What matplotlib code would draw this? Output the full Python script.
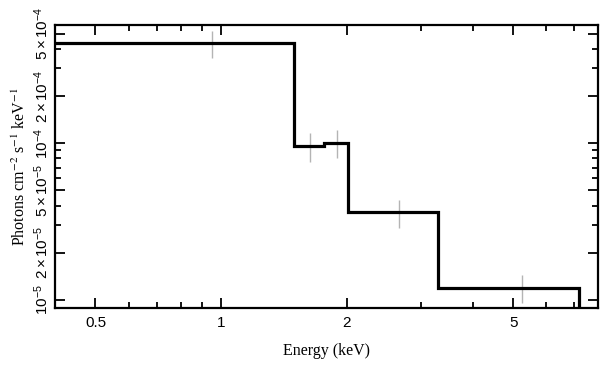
"""Unfolded X-ray spectrum: model step function with data error bars."""

import matplotlib

matplotlib.use("Agg")
import matplotlib.pyplot as plt
from matplotlib.ticker import FixedLocator, FixedFormatter, NullFormatter

# model bins (keV) and flux levels (photons cm^-2 s^-1 keV^-1)
bin_edges = [0.3, 1.49, 1.765, 2.01, 3.30, 7.2]
model_flux = [4.33e-4, 9.6e-5, 1.01e-4, 3.63e-5, 1.19e-5]

# data points: energy and lower/upper flux limits
data_energy = [0.948, 1.63, 1.89, 2.66, 5.25]
data_low = [3.48e-4, 7.63e-5, 8.03e-5, 2.90e-5, 9.57e-6]
data_high = [5.19e-4, 1.158e-4, 1.215e-4, 4.35e-5, 1.435e-5]

x_ticks = [0.5, 1, 2, 5]
x_ticklabels = ["0.5", "1", "2", "5"]
x_minor = [0.6, 0.7, 0.8, 0.9, 3, 4, 6, 7]
y_ticks = [1e-5, 2e-5, 5e-5, 1e-4, 2e-4, 5e-4]
y_ticklabels = [r"$10^{-5}$", r"$2\times10^{-5}$", r"$5\times10^{-5}$",
                r"$10^{-4}$", r"$2\times10^{-4}$", r"$5\times10^{-4}$"]
y_minor = [3e-5, 4e-5, 6e-5, 7e-5, 8e-5, 9e-5, 3e-4, 4e-4]

plt.rcParams["mathtext.fontset"] = "custom"
plt.rcParams["mathtext.rm"] = "Liberation Sans"
plt.rcParams["mathtext.it"] = "Liberation Sans:italic"
plt.rcParams["mathtext.bf"] = "Liberation Sans:bold"

fig = plt.figure(figsize=(6.09, 3.71), dpi=100)
ax = fig.add_axes([0.0903, 0.1698, 0.8917, 0.7628])
ax.set_xscale("log")
ax.set_yscale("log")

ax.vlines(data_energy, data_low, data_high, color="#b4b4b4", linewidth=1.0, zorder=2)
ax.stairs(model_flux, bin_edges, baseline=1e-6, color="black", linewidth=2.3, zorder=3)

ax.set_xlim(0.4, 7.98)
ax.set_ylim(8.9e-6, 5.67e-4)

ax.xaxis.set_major_locator(FixedLocator(x_ticks))
ax.xaxis.set_major_formatter(FixedFormatter(x_ticklabels))
ax.xaxis.set_minor_locator(FixedLocator(x_minor))
ax.xaxis.set_minor_formatter(NullFormatter())
ax.yaxis.set_major_locator(FixedLocator(y_ticks))
ax.yaxis.set_major_formatter(FixedFormatter(y_ticklabels))
ax.yaxis.set_minor_locator(FixedLocator(y_minor))
ax.yaxis.set_minor_formatter(NullFormatter())

ax.tick_params(which="both", direction="in", top=True, right=True, width=1.3)
ax.tick_params(which="major", length=7, labelsize=11)
ax.tick_params(axis="x", which="major", pad=6)
ax.tick_params(axis="y", which="major", pad=3)
ax.tick_params(which="minor", length=4)
for lbl in ax.get_xticklabels() + ax.get_yticklabels():
    lbl.set_family("Liberation Sans")
for lbl in ax.get_yticklabels():
    lbl.set_rotation(90)
    lbl.set_verticalalignment("center")

for spine in ax.spines.values():
    spine.set_linewidth(1.6)

ax.set_xlabel("Energy (keV)", family="Liberation Serif", fontsize=11.5, va="center")
ax.set_ylabel(r"Photons cm$^{-2}$ s$^{-1}$ keV$^{-1}$", family="Liberation Serif",
              fontsize=11.5, math_fontfamily="stix", va="center")
ax.xaxis.set_label_coords(0.5, -0.152)
ax.yaxis.set_label_coords(-0.064, 0.5)

fig.savefig("out.png", dpi=100)
